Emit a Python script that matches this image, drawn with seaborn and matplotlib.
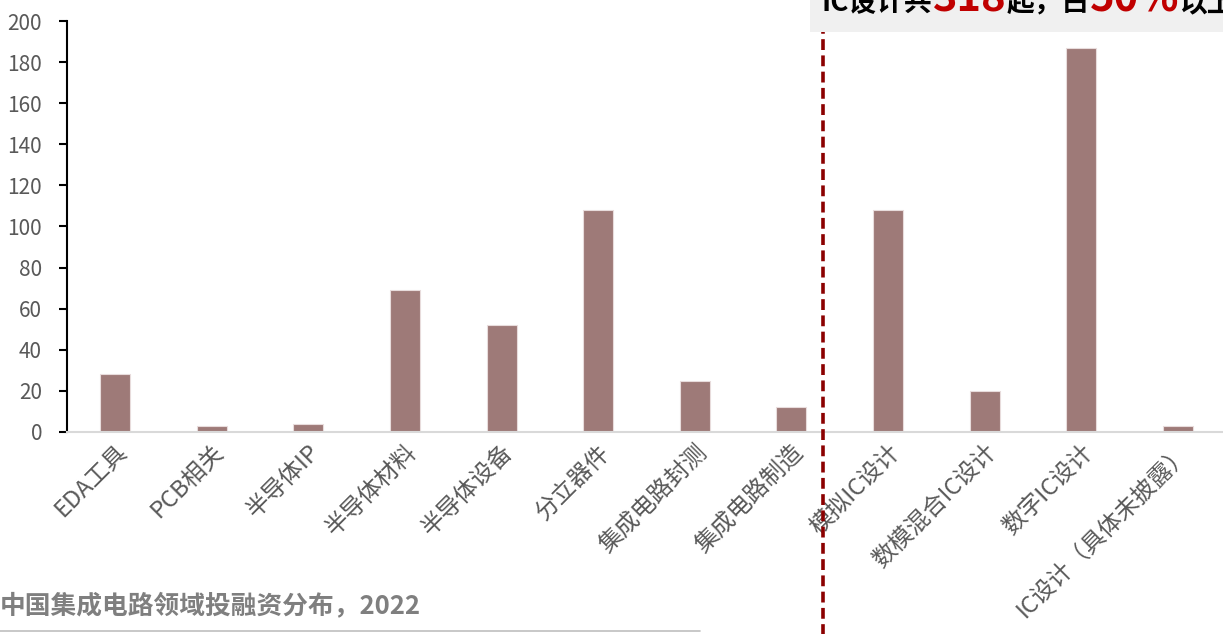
import matplotlib
matplotlib.use("Agg")
import matplotlib.pyplot as plt
import seaborn as sns
import pandas as pd
from matplotlib.patches import Rectangle

categories = ["EDA工具", "PCB相关", "半导体IP", "半导体材料", "半导体设备", "分立器件",
              "集成电路封测", "集成电路制造", "模拟IC设计", "数模混合IC设计", "数字IC设计",
              "IC设计（具体未披露）"]
values = [28, 3, 4, 69, 52, 108, 25, 12, 108, 20, 187, 3]
yticks = [0, 20, 40, 60, 80, 100, 120, 140, 160, 180, 200]
title = "中国集成电路领域投融资分布，2022"
note_parts = [("IC设计共", "black", 20), ("318", "#C00000", 30), ("起，占", "black", 20),
              ("50%", "#C00000", 30), ("以上", "black", 20)]

sns.set_theme(style="white")
plt.rcParams['font.family'] = ['Noto Sans CJK SC', 'DejaVu Sans']

fig = plt.figure(figsize=(12.23, 6.34), dpi=100)
ax = fig.add_axes([67/1223, 1-432/634, (1226-67)/1223, (432-21)/634])

df = pd.DataFrame({"cat": categories, "val": values})
sns.barplot(data=df, x="cat", y="val", color="#9E7A78", saturation=1, width=0.31,
            edgecolor="#E8DCDC", linewidth=0.8, ax=ax)

ax.set_ylim(0, 200)
ax.set_xlim(-0.5, len(categories) - 0.5)
ax.set_yticks(yticks)
ax.set_xlabel("")
ax.set_ylabel("")
for s in ["top", "right"]:
    ax.spines[s].set_visible(False)
ax.spines["left"].set_color("black")
ax.spines["left"].set_linewidth(1.5)
ax.spines["bottom"].set_color("#D9D9D9")
ax.spines["bottom"].set_linewidth(1.5)
ax.tick_params(axis="y", direction="out", length=6, width=1.5, color="black",
               labelsize=15, labelcolor="#595959", pad=12, left=True)
ax.tick_params(axis="x", length=0, labelsize=17, labelcolor="#595959", pad=6)
ax.set_xticks(range(len(categories)))
ax.set_xticklabels(categories, rotation=45, ha="right", rotation_mode="anchor")

# dividing line between manufacturing chain and IC design
ax.axvline(7.33, ymin=-0.5, ymax=1.1, color="#8B0000", lw=2.6,
           linestyle=(0, (3.0, 1.5)), clip_on=False, zorder=5)

# note box at top right
fig.patches.append(Rectangle((810/1223, 1-32/634), 1-810/1223, 32/634,
                             transform=fig.transFigure, facecolor="#F0F0F0",
                             edgecolor="none", zorder=0))
fig.canvas.draw()
renderer = fig.canvas.get_renderer()
x = 822
for txt, col, fs in note_parts:
    t = fig.text(x/1223, 1-11/634, txt, color=col, fontsize=fs, fontweight="bold",
                 va="baseline", ha="left")
    bb = t.get_window_extent(renderer)
    x += bb.width

# bottom title and rule
fig.text(0/1223, 1-606/634, title, color="#7F7F7F", fontsize=18.5, fontweight="bold",
         va="center", ha="left")
fig.add_artist(plt.Line2D([0, 700/1223], [1-631/634, 1-631/634], color="#BFBFBF", lw=1.2,
                          transform=fig.transFigure))

fig.savefig("out.png", dpi=100)
